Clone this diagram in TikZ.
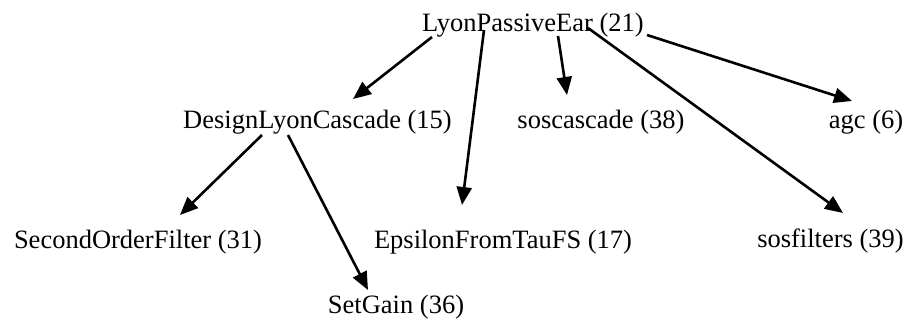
\documentclass[tikz,border=0pt]{standalone}
\usepackage{fontspec}
\setmainfont{LiberationSerif}[Extension=.ttf,UprightFont=*-Regular,BoldFont=*-Bold]
\usetikzlibrary{arrows.meta,calc}
\begin{document}
\begin{tikzpicture}[x=1pt,y=-1pt,
  fn/.style={inner sep=0pt,anchor=base,font=\rmfamily\fontsize{26.5}{30}\selectfont},
  call/.style={line width=2.6pt,-{Triangle[length=18pt,width=15pt]}}]
\useasboundingbox (0,0) rectangle (909,325);
% call graph nodes (base points of the labels)
\node[fn] (lyon) at (533,31) {LyonPassiveEar (21)};
\node[fn] (dlc) at (317.5,128) {DesignLyonCascade (15)};
\node[fn] (sos) at (601,128) {soscascade (38)};
\node[fn] (agc) at (866,128) {agc (6)};
\node[fn] (sof) at (138,248) {SecondOrderFilter (31)};
\node[fn] (eps) at (503,248) {EpsilonFromTauFS (17)};
\node[fn] (sosf) at (830.5,247) {sosfilters (39)};
\node[fn] (gain) at (396,313) {SetGain (36)};
% calls
\draw[call] ($(lyon.base)+(-101,6)$) -- ($(dlc.base)+(35.5,-29)$);
\draw[call] ($(lyon.base)+(-49,-1)$) -- ($(eps.base)+(-41,-43)$);
\draw[call] ($(lyon.base)+(25,5)$) -- ($(sos.base)+(-34,-33)$);
\draw[call] ($(lyon.base)+(55,-3)$) -- ($(sosf.base)+(12.5,-34)$);
\draw[call] ($(lyon.base)+(114,4)$) -- ($(agc.base)+(-14,-27)$);
\draw[call] ($(dlc.base)+(-55.5,7)$) -- ($(sof.base)+(42,-33)$);
\draw[call] ($(dlc.base)+(-29.5,7)$) -- ($(gain.base)+(-28,-23)$);
\end{tikzpicture}
\end{document}
